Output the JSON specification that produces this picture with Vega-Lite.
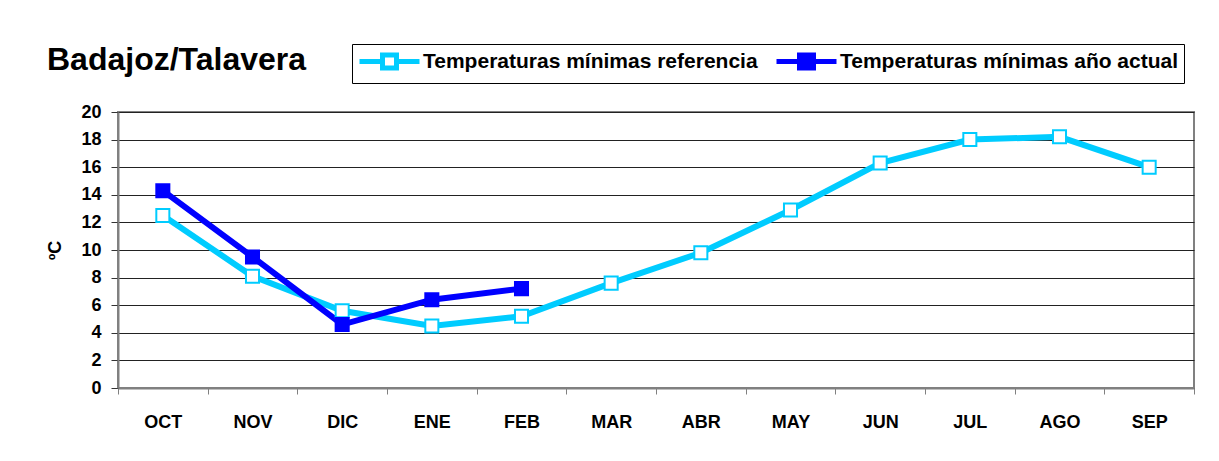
{
  "$schema": "https://vega.github.io/schema/vega-lite/v6.json",
  "width": 1076,
  "height": 276,
  "autosize": "none",
  "padding": {"left": 118, "top": 112, "right": 25, "bottom": 73},
  "background": "white",
  "config": {
    "font": "Liberation Sans",
    "view": {"stroke": "#808080", "strokeWidth": 2}
  },
  "title": {
    "text": "Badajoz/Talavera",
    "anchor": "start",
    "frame": "group",
    "dx": -71,
    "offset": 0,
    "dy": 58,
    "baseline": "alphabetic",
    "font": "Liberation Sans",
    "fontSize": 32,
    "fontWeight": "bold",
    "color": "black"
  },
  "data": {
    "values": [
      {"mes": "OCT", "serie": "Temperaturas mínimas referencia", "temp": 12.5},
      {"mes": "NOV", "serie": "Temperaturas mínimas referencia", "temp": 8.1},
      {"mes": "DIC", "serie": "Temperaturas mínimas referencia", "temp": 5.6},
      {"mes": "ENE", "serie": "Temperaturas mínimas referencia", "temp": 4.5},
      {"mes": "FEB", "serie": "Temperaturas mínimas referencia", "temp": 5.2},
      {"mes": "MAR", "serie": "Temperaturas mínimas referencia", "temp": 7.6},
      {"mes": "ABR", "serie": "Temperaturas mínimas referencia", "temp": 9.8},
      {"mes": "MAY", "serie": "Temperaturas mínimas referencia", "temp": 12.9},
      {"mes": "JUN", "serie": "Temperaturas mínimas referencia", "temp": 16.3},
      {"mes": "JUL", "serie": "Temperaturas mínimas referencia", "temp": 18.0},
      {"mes": "AGO", "serie": "Temperaturas mínimas referencia", "temp": 18.2},
      {"mes": "SEP", "serie": "Temperaturas mínimas referencia", "temp": 16.0},
      {"mes": "OCT", "serie": "Temperaturas mínimas año actual", "temp": 14.3},
      {"mes": "NOV", "serie": "Temperaturas mínimas año actual", "temp": 9.5},
      {"mes": "DIC", "serie": "Temperaturas mínimas año actual", "temp": 4.6},
      {"mes": "ENE", "serie": "Temperaturas mínimas año actual", "temp": 6.4},
      {"mes": "FEB", "serie": "Temperaturas mínimas año actual", "temp": 7.2}
    ]
  },
  "encoding": {
    "x": {
      "field": "mes",
      "type": "ordinal",
      "sort": ["OCT","NOV","DIC","ENE","FEB","MAR","ABR","MAY","JUN","JUL","AGO","SEP"],
      "scale": {"type": "band", "paddingInner": 0, "paddingOuter": 0},
      "axis": {
        "title": null,
        "labelAngle": 0,
        "labelFont": "Liberation Sans",
        "labelFontSize": 18,
        "labelFontWeight": "bold",
        "labelColor": "black",
        "labelPadding": 19,
        "tickBand": "extent",
        "tickSize": 6,
        "tickColor": "#808080",
        "tickWidth": 1,
        "domainColor": "#808080",
        "domainWidth": 2,
        "grid": false
      }
    },
    "y": {
      "field": "temp",
      "type": "quantitative",
      "scale": {"domain": [0, 20], "nice": false},
      "axis": {
        "title": "ºC",
        "titleFont": "Liberation Sans",
        "titleFontSize": 18,
        "titleFontWeight": "bold",
        "titleColor": "black",
        "titlePadding": 16,
        "values": [0,2,4,6,8,10,12,14,16,18,20],
        "labelFont": "Liberation Sans",
        "labelFontSize": 18,
        "labelFontWeight": "bold",
        "labelColor": "black",
        "labelPadding": 10,
        "tickSize": 7,
        "tickColor": "#333333",
        "domainColor": "#808080",
        "domainWidth": 2,
        "grid": true,
        "gridColor": "#222222",
        "gridWidth": 1,
        "gridOpacity": 1
      }
    }
  },
  "layer": [
    {
      "mark": {"type": "line", "strokeWidth": 6},
      "encoding": {
        "color": {
          "field": "serie",
          "type": "nominal",
          "sort": ["Temperaturas mínimas referencia", "Temperaturas mínimas año actual"],
          "scale": {
            "domain": ["Temperaturas mínimas referencia", "Temperaturas mínimas año actual"],
            "range": ["#00CCFF", "#0000FF"]
          },
          "legend": {
            "orient": "none",
            "legendX": 234,
            "legendY": -68,
            "direction": "horizontal",
            "title": null,
            "symbolType": "M-1,0H1.3M2.7,0H5M1.3,-0.65H2.7V0.65H1.3Z",
            "symbolSize": 400,
            "symbolStrokeWidth": 5,
            "labelFont": "Liberation Sans",
            "labelFontSize": 21,
            "labelFontWeight": "bold",
            "labelColor": "black",
            "labelLimit": 0,
            "labelOffset": 41,
            "columnPadding": 8,
            "padding": 5,
            "strokeColor": "black",
            "fillColor": "white",
            "encode": {
              "symbols": {
                "update": {
                  "fill": [
                    {"test": "datum.value === 'Temperaturas mínimas referencia'", "value": "white"},
                    {"value": "#0000FF"}
                  ],
                  "fillOpacity": {"value": 1}
                }
              }
            }
          }
        }
      }
    },
    {
      "mark": {"type": "point", "shape": "square", "filled": true, "size": 170, "strokeWidth": 2, "opacity": 1},
      "encoding": {
        "fill": {
          "field": "serie",
          "type": "nominal",
          "scale": {
            "domain": ["Temperaturas mínimas referencia", "Temperaturas mínimas año actual"],
            "range": ["white", "#0000FF"]
          },
          "legend": null
        },
        "stroke": {
          "field": "serie",
          "type": "nominal",
          "scale": {
            "domain": ["Temperaturas mínimas referencia", "Temperaturas mínimas año actual"],
            "range": ["#00CCFF", "#0000FF"]
          },
          "legend": null
        }
      }
    }
  ]
}
